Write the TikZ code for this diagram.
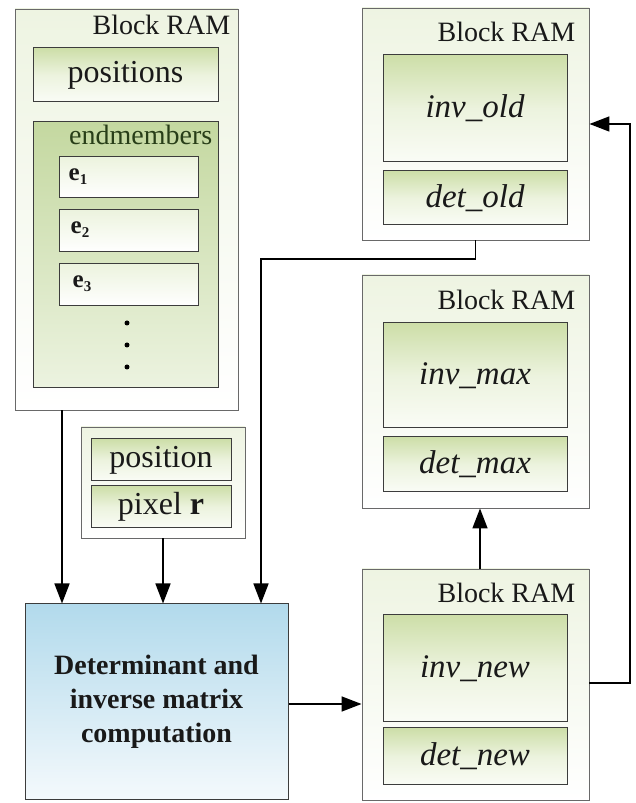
\documentclass[tikz,border=0pt]{standalone}
\usepackage{fontspec}
\setmainfont{Liberation Serif}
\usetikzlibrary{arrows.meta}

\definecolor{ramline}{RGB}{105,105,105}
\definecolor{ramtop}{RGB}{238,244,226}
\definecolor{cellline}{RGB}{60,60,60}
\definecolor{celltop}{RGB}{205,222,168}
\definecolor{cellmid}{RGB}{236,243,222}
\definecolor{cellbot}{RGB}{250,252,246}
\definecolor{endtop}{RGB}{196,216,160}
\definecolor{endbot}{RGB}{236,243,224}
\definecolor{endgreen}{RGB}{40,62,24}
\definecolor{dettop}{RGB}{178,218,236}
\definecolor{detbot}{RGB}{244,249,252}
\definecolor{ink}{RGB}{25,25,25}

\begin{document}
\begin{tikzpicture}[x=1pt,y=1pt,
  ramouter/.style={draw=ramline, line width=0.9pt, top color=ramtop, bottom color=white,
    inner sep=0pt, minimum width=227pt},
  cell/.style={draw=cellline, line width=1pt, top color=celltop, bottom color=cellbot,
    middle color=cellmid, inner sep=0pt, text=ink},
  ecell/.style={draw=cellline, line width=1pt, top color=cellmid, bottom color=white,
    inner sep=0pt, minimum width=139pt},
  endbox/.style={draw=cellline, line width=1pt, top color=endtop, bottom color=endbot,
    inner sep=0pt},
  ramlbl/.style={font=\fontsize{28}{32}\selectfont, text=ink, inner sep=0pt, anchor=base east},
  bigtxt/.style={font=\fontsize{32}{36}\selectfont},
  ittxt/.style={font=\fontsize{33}{36}\selectfont\itshape},
  etxt/.style={font=\fontsize{25}{27}\selectfont\bfseries, text=ink, inner sep=0pt, anchor=west},
  detbox/.style={draw=cellline, line width=1pt, top color=dettop, bottom color=detbot,
    inner sep=0pt, align=center, text=ink,
    font=\fontsize{28}{34}\selectfont\bfseries},
  arr/.style={-{Triangle[length=20pt,width=15pt]}, line width=1.6pt, draw=black},
  dot/.style={circle, fill=black, inner sep=0pt, minimum size=5pt}
]
\useasboundingbox (0,0) rectangle (636,803);

% ---- left Block RAM: positions and endmembers ----
\node[ramouter, minimum width=223pt, minimum height=401pt] (ramA) at (126.5,593.5) {};
\node[ramlbl] (ramAlbl) at ([xshift=-8pt,yshift=-26pt]ramA.north east) {Block RAM};
\node[cell, bigtxt, minimum width=185pt, minimum height=54pt] (posA) at (125.5,728) {positions};
\node[endbox, minimum width=185pt, minimum height=266pt] (endm) at (125.5,548) {};
\node[ramlbl, text=endgreen] (endmlbl) at ([xshift=-6pt,yshift=-23pt]endm.north east) {endmembers};
\node[ecell, minimum height=41pt] (e1) at (128.5,625.5) {};
\node[ecell, minimum height=42pt] (e2) at (128.5,572) {};
\node[ecell, minimum height=42pt] (e3) at (128.5,518) {};
\node[etxt] (e1t) at ([xshift=10pt,yshift=1pt]e1.west) {e\raisebox{-0.35ex}{\fontsize{15}{15}\selectfont 1}};
\node[etxt] (e2t) at ([xshift=12pt,yshift=1pt]e2.west) {e\raisebox{-0.35ex}{\fontsize{15}{15}\selectfont 2}};
\node[etxt] (e3t) at ([xshift=14pt,yshift=1pt]e3.west) {e\raisebox{-0.35ex}{\fontsize{15}{15}\selectfont 3}};
\node[dot] (d1) at (127,480) {};
\node[dot] (d2) at (127,458) {};
\node[dot] (d3) at (127,436) {};

% ---- pixel input ----
\node[ramouter, minimum width=164pt, minimum height=111pt] (pix) at (163,320.5) {};
\node[cell, bigtxt, minimum width=140pt, minimum height=42pt] (posB) at (161,343) {position};
\node[cell, bigtxt, minimum width=140pt, minimum height=42pt] (pixr) at (161,296) {pixel \textbf{r}};

% ---- computation unit ----
\node[detbox, minimum width=263pt, minimum height=196pt] (det) at (156.5,101)
  {Determinant and\\inverse matrix\\computation};

% ---- right column of Block RAMs ----
\node[ramouter, minimum height=232pt] (ramOld) at (475.5,679) {};
\node[ramlbl] (ramOldlbl) at ([xshift=-14pt,yshift=-34pt]ramOld.north east) {Block RAM};
\node[cell, ittxt, minimum width=184pt, minimum height=107pt] (invOld) at (475,694.5) {inv\_old};
\node[cell, ittxt, minimum width=184pt, minimum height=54pt] (detOld) at (475,605) {det\_old};

\node[ramouter, minimum height=233pt] (ramMax) at (475.5,411.5) {};
\node[ramlbl] (ramMaxlbl) at ([xshift=-14pt,yshift=-35pt]ramMax.north east) {Block RAM};
\node[cell, ittxt, minimum width=184pt, minimum height=105pt] (invMax) at (475,427.5) {inv\_max};
\node[cell, ittxt, minimum width=184pt, minimum height=55pt] (detMax) at (475,338.5) {det\_max};

\node[ramouter, minimum height=231pt] (ramNew) at (475.5,118.5) {};
\node[ramlbl] (ramNewlbl) at ([xshift=-14pt,yshift=-34pt]ramNew.north east) {Block RAM};
\node[cell, ittxt, minimum width=184pt, minimum height=107pt] (invNew) at (475,134.5) {inv\_new};
\node[cell, ittxt, minimum width=184pt, minimum height=57pt] (detNew) at (475,46.5) {det\_new};

% ---- connectors ----
\coordinate (bend) at (261,544);
\coordinate (rt) at (630,0);
\draw[arr] ([xshift=-64.5pt]ramA.south) -- ([xshift=-64.5pt]ramA.south |- det.north);
\draw[arr] (pix.south) -- (pix.south |- det.north);
\draw[arr] (ramOld.south) |- (bend) -- (bend |- det.north);
\draw[arr] ([yshift=-2pt]det.east) -- ([yshift=-2pt]det.east -| ramNew.west);
\draw[arr] ([xshift=4.5pt]ramNew.north) -- ([xshift=4.5pt]ramMax.south);
\draw[arr] ([yshift=1.5pt]ramNew.east) -- ([yshift=1.5pt]ramNew.east -| rt)
  -- (rt |- ramOld.east) -- (ramOld.east);
\end{tikzpicture}
\end{document}
